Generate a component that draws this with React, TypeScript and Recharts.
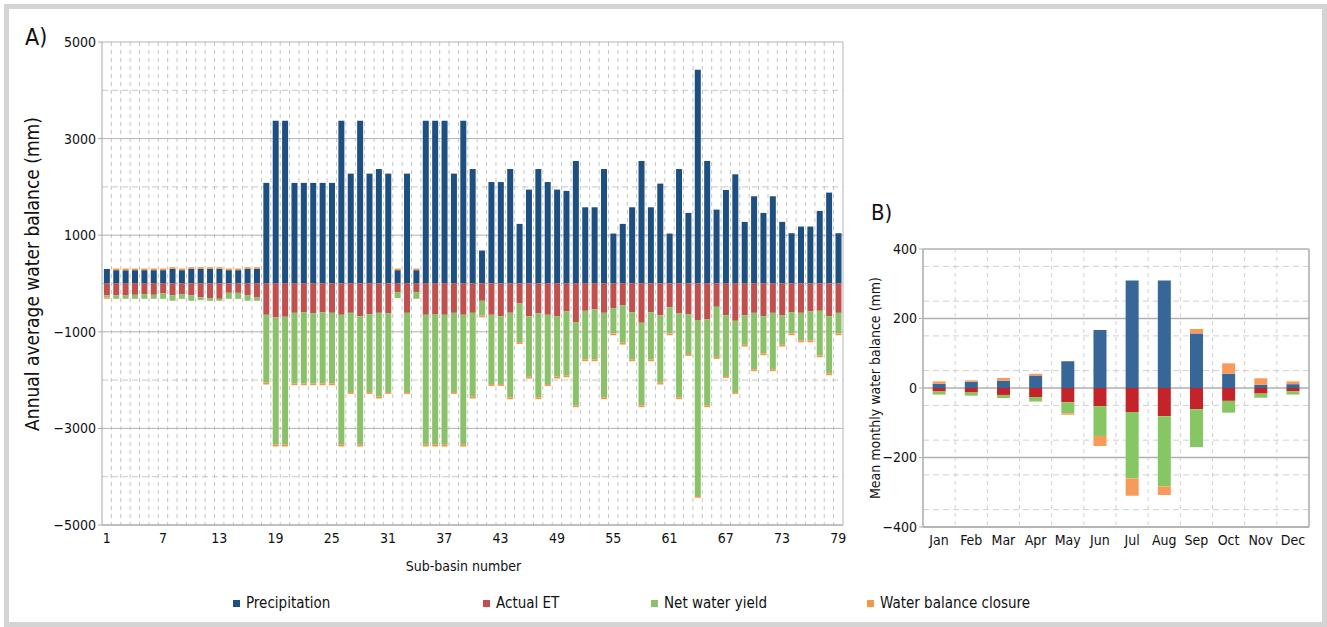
import React from 'react';
import { BarChart, Bar, XAxis, YAxis, CartesianGrid } from 'recharts';

const FONT = "'Liberation Sans Narrow', 'DejaVu Sans Condensed', 'Arial Narrow', sans-serif";

// sub-basin numbers 1..79
const basinNumbers = Array.from({ length: 79 }, (_, i) => i + 1);

const precipitation = [
  300, 276, 276, 276, 276, 276, 276, 303, 276, 303, 303, 303, 303, 276, 276, 303, 303,
  2083, 3370, 3370, 2083, 2083, 2083, 2083, 2083, 3370, 2275, 3370, 2275, 2370, 2275, 276,
  2275, 276, 3370, 3370, 3370, 2275, 3370, 2370, 683, 2100, 2100, 2370, 1234, 1944, 2370,
  2100, 1944, 1917, 2537, 1578, 1578, 2370, 1034, 1234, 1578, 2537, 1578, 2068, 1034, 2370,
  1462, 4426, 2537, 1530, 1937, 2261, 1276, 1806, 1462, 1806, 1276, 1041, 1179, 1179, 1503,
  1882, 1041,
];

const actualET = [
  -248, -248, -248, -234, -221, -234, -207, -248, -221, -248, -290, -303, -317, -193, -193, -248, -290,
  -648, -703, -689, -607, -593, -620, -593, -607, -648, -607, -676, -634, -607, -620, -179,
  -607, -179, -648, -634, -648, -607, -648, -607, -358, -648, -676, -607, -414, -676, -620,
  -648, -676, -579, -800, -565, -538, -607, -510, -455, -593, -813, -593, -662, -496, -620,
  -634, -758, -744, -482, -662, -772, -662, -607, -676, -607, -662, -593, -607, -579, -565,
  -676, -607,
];

const netWaterYield = [
  -42, -69, -69, -83, -96, -83, -110, -110, -96, -110, -55, -55, -41, -124, -124, -110, -68,
  -1406, -2634, -2648, -1461, -1475, -1448, -1475, -1461, -2689, -1640, -2661, -1613, -1737, -1627, -124,
  -1640, -138, -2689, -2703, -2689, -1640, -2689, -1737, -304, -1434, -1406, -1750, -799, -1254, -1737,
  -1434, -1254, -1324, -1723, -1007, -1034, -1750, -524, -772, -979, -1710, -979, -1392, -538, -1737,
  -827, -3640, -1779, -1041, -1254, -1475, -606, -1171, -772, -1171, -606, -441, -572, -600, -924,
  -1185, -427,
];

const balanceClosure = [
  -27, 35, 35, 35, 35, 35, 35, 35, 35, 35, 35, 35, 35, 35, 35, 35, 35,
  -38, -38, -38, -38, -38, -38, -38, -38, -38, -38, -38, -38, -38, -38, 35,
  -38, 35, -38, -38, -38, -38, -38, -38, -38, -38, -38, -38, -38, -38, -38,
  -38, -38, -38, -38, -38, -38, -38, -38, -38, -38, -38, -38, -38, -38, -38,
  -38, -38, -38, -38, -38, -38, -38, -38, -38, -38, -38, -38, -38, -38, -38,
  -38, -38,
];

const months = ['Jan', 'Feb', 'Mar', 'Apr', 'May', 'Jun', 'Jul', 'Aug', 'Sep', 'Oct', 'Nov', 'Dec'];
const monthlyPrecip = [12, 18, 21, 36, 77, 167, 309, 309, 157, 41, 9, 11];
const monthlyET = [-10, -13, -20, -26, -41, -52, -69, -81, -61, -37, -16, -9];
const monthlyYield = [-9, -9, -9, -13, -32, -86, -191, -202, -109, -34, -12, -10];
const monthlyClosure = [7, 4, 8, 5, -4, -29, -50, -25, 13, 30, 19, 8];

const annualTicks = [-5000, -3000, -1000, 1000, 3000, 5000];
const annualDashed = [-4000, -2000, 0, 2000, 4000];
const monthlyTicks = [-400, -200, 0, 200, 400];
const monthlyDashed = [-350, -300, -250, -150, -100, -50, 50, 100, 150, 250, 300, 350];

const seriesA = [
  { key: 'precipitation', name: 'Precipitation', color: '#1d4f80' },
  { key: 'et', name: 'Actual ET', color: '#c0504d' },
  { key: 'netYield', name: 'Net water yield', color: '#8bc168' },
  { key: 'closure', name: 'Water balance closure', color: '#f79646' },
];
const seriesBColors = ['#376699', '#c4232a', '#87c763', '#f89a58'];

const basinData = basinNumbers.map((n, i) => ({
  basin: n,
  precipitation: precipitation[i],
  et: actualET[i],
  netYield: netWaterYield[i],
  closure: balanceClosure[i],
}));

const monthData = months.map((m, i) => ({
  month: m,
  precipitation: monthlyPrecip[i],
  et: monthlyET[i],
  netYield: monthlyYield[i],
  closure: monthlyClosure[i],
}));

const fmt = (v: number) => (v < 0 ? `\u2212${Math.abs(v)}` : `${v}`);

// dashed lines between categories
const boundaries = (count: number) => ({ offset }: any) => {
  const pts: number[] = [];
  for (let i = 1; i < count; i++) pts.push(offset.left + (offset.width * i) / count);
  return pts;
};
const rightEdge = ({ offset }: any) => [offset.left + offset.width];

const tickStyle = { fontSize: 14, fill: '#111', fontFamily: FONT };
const legendX = [233, 483, 651, 867];

export default function App() {
  return (
    <div style={{ position: 'absolute', left: 0, top: 0, width: 1327, height: 627, background: '#fff', fontFamily: FONT }}>
      <div
        style={{
          position: 'absolute', left: 4, top: 4, width: 1323, height: 623,
          border: '5px solid #d4d4d4', boxSizing: 'border-box',
        }}
      />
      <div style={{ position: 'absolute', left: 25, top: 24, fontSize: 23, color: '#111' }}>A)</div>
      <div style={{ position: 'absolute', left: 871, top: 200, fontSize: 22, color: '#111' }}>B)</div>

      <div style={{ position: 'absolute', left: 0, top: 0 }}>
        <BarChart
          width={860}
          height={590}
          data={basinData}
          stackOffset="sign"
          barCategoryGap="20%"
          margin={{ top: 42, right: 17, bottom: 15, left: 20 }}
        >
          <CartesianGrid horizontal={false} verticalCoordinatesGenerator={boundaries(79)} stroke="#c4c4c4" strokeDasharray="4 4" />
          <CartesianGrid horizontalValues={annualDashed} vertical={false} stroke="#c8c8c8" strokeDasharray="6 4" />
          <CartesianGrid horizontalValues={annualTicks} verticalCoordinatesGenerator={rightEdge} stroke="#b3b3b3" />
          <XAxis
            dataKey="basin"
            interval={5}
            tickLine={false}
            axisLine={{ stroke: '#a6a6a6' }}
            tick={tickStyle}
            height={50}
            label={{ value: 'Sub-basin number', position: 'insideBottom', offset: 4, dx: -9, style: { fontSize: 14, fill: '#111', fontFamily: FONT } }}
          />
          <YAxis
            domain={[-5000, 5000]}
            ticks={annualTicks}
            tickFormatter={fmt}
            width={82}
            tickSize={4}
            tickLine={{ stroke: '#a6a6a6' }}
            axisLine={{ stroke: '#a6a6a6' }}
            tick={tickStyle}
          />
          {seriesA.map((s) => (
            <Bar key={s.key} dataKey={s.key} name={s.name} stackId="a" fill={s.color} isAnimationActive={false} />
          ))}
        </BarChart>
      </div>
      <div
        style={{
          position: 'absolute', left: 32, top: 274, transform: 'translate(-50%, -50%) rotate(-90deg)',
          whiteSpace: 'nowrap', fontSize: 19, color: '#111', lineHeight: 1,
        }}
      >
        Annual average water balance (mm)
      </div>

      <div style={{ position: 'absolute', left: 860, top: 190 }}>
        <BarChart
          width={460}
          height={380}
          data={monthData}
          stackOffset="sign"
          barCategoryGap="30%"
          margin={{ top: 59, right: 11, bottom: 13, left: 5 }}
        >
          <CartesianGrid horizontal={false} verticalCoordinatesGenerator={boundaries(12)} stroke="#cfcfcf" strokeDasharray="4 4" />
          <CartesianGrid horizontalValues={monthlyDashed} vertical={false} stroke="#d0d0d0" strokeDasharray="6 4" />
          <CartesianGrid horizontalValues={monthlyTicks} verticalCoordinatesGenerator={rightEdge} stroke="#b0b0b0" strokeWidth={1.6} />
          <XAxis dataKey="month" interval={0} tickLine={false} axisLine={{ stroke: '#b0b0b0', strokeWidth: 1.6 }} tick={tickStyle} height={30} />
          <YAxis
            domain={[-400, 400]}
            ticks={monthlyTicks}
            tickFormatter={fmt}
            width={58}
            tickSize={4}
            tickLine={{ stroke: '#b0b0b0' }}
            axisLine={{ stroke: '#b0b0b0', strokeWidth: 1.6 }}
            tick={tickStyle}
            label={{ value: 'Mean monthly water balance (mm)', angle: -90, position: 'insideLeft', offset: 10, style: { textAnchor: 'middle', fontSize: 14, fill: '#111', fontFamily: FONT } }}
          />
          {seriesA.map((s, i) => (
            <Bar key={s.key} dataKey={s.key} name={s.name} stackId="m" fill={seriesBColors[i]} isAnimationActive={false} />
          ))}
        </BarChart>
      </div>

      {seriesA.map((s, i) => (
        <div key={s.key} style={{ position: 'absolute', left: legendX[i], top: 594, display: 'flex', alignItems: 'center', fontSize: 15, color: '#111' }}>
          <span style={{ width: 7, height: 7, background: s.color, marginRight: 6, display: 'inline-block' }} />
          {s.name}
        </div>
      ))}
    </div>
  );
}
